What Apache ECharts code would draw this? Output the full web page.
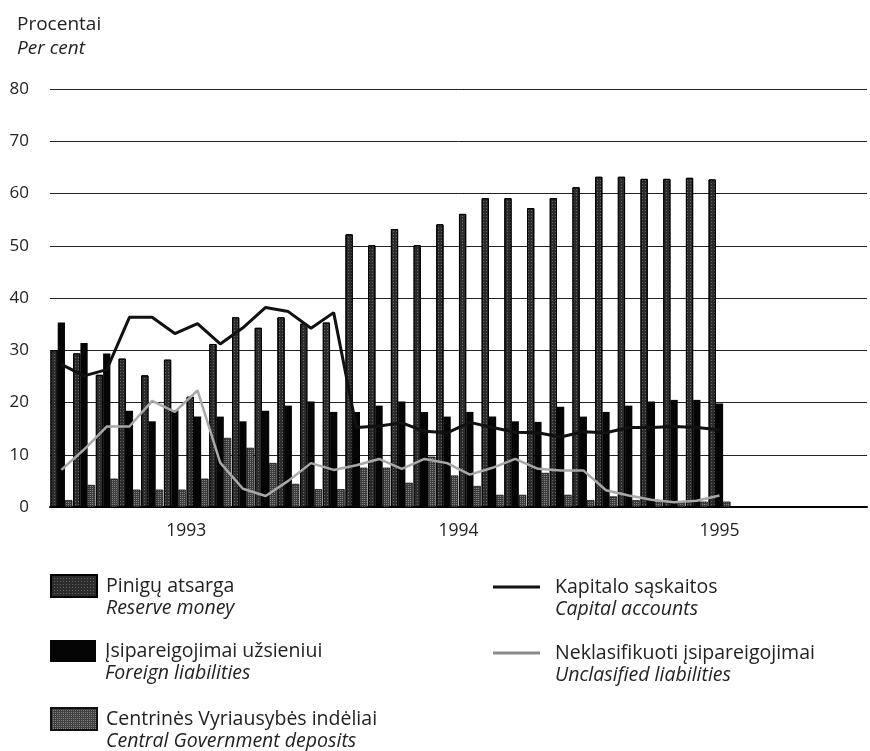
<!DOCTYPE html>
<html>
<head>
<meta charset="utf-8">
<script src="https://cdn.jsdelivr.net/npm/echarts@6/dist/echarts.min.js"></script>
<style>
html,body{margin:0;padding:0;background:#fff;}
#chart{width:870px;height:751px;}
</style>
</head>
<body>
<div id="chart"></div>
<script>
// Monthly categories, Jan 1993 - Dec 1995 (data through Jun 1995)
const months = [
  '1993-01','1993-02','1993-03','1993-04','1993-05','1993-06','1993-07','1993-08','1993-09','1993-10','1993-11','1993-12',
  '1994-01','1994-02','1994-03','1994-04','1994-05','1994-06','1994-07','1994-08','1994-09','1994-10','1994-11','1994-12',
  '1995-01','1995-02','1995-03','1995-04','1995-05','1995-06','1995-07','1995-08','1995-09','1995-10','1995-11','1995-12'
];
const yearLabels = ['1993', '1994', '1995'];
const yearTickPos = [6, 18, 29.5];

// Pinigų atsarga / Reserve money
const reserveMoney = [30, 29.4, 25.3, 28.4, 25.2, 28.2, 21.1, 31.2, 36.3, 34.3, 36.3, 35.1, 35.3,
  52.2, 50.1, 53.2, 50.1, 54.1, 56.1, 59.1, 59.1, 57.2, 59.1, 61.2, 63.2, 63.2, 62.8, 62.8, 63, 62.7];
// Įsipareigojimai užsieniui / Foreign liabilities
const foreignLiab = [35.3, 31.4, 29.4, 18.4, 16.4, 18.5, 17.3, 17.3, 16.4, 18.4, 19.4, 20.2, 18.2,
  18.2, 19.4, 20.2, 18.2, 17.3, 18.2, 17.3, 16.4, 16.3, 19.2, 17.3, 18.2, 19.4, 20.2, 20.5, 20.5, 19.8];
// Centrinės Vyriausybės indėliai / Central Government deposits
const govDeposits = [1.3, 4.2, 5.4, 3.3, 3.3, 3.3, 5.4, 13.2, 11.3, 8.4, 4.4, 3.4, 3.4,
  7.5, 7.5, 4.6, 9.6, 6, 4, 2.3, 2.3, 6.5, 2.3, 1.3, 2, 1.3, 1, 1, 1, 1];
// Kapitalo sąskaitos / Capital accounts
const capitalAcc = [27.3, 25.1, 26.3, 36.3, 36.3, 33.2, 35.1, 31.2, 34.3, 38.2, 37.4, 34.2, 37.2,
  15.2, 15.5, 16.1, 14.5, 14.2, 16.2, 15.2, 14.3, 14.2, 13.4, 14.4, 14.2, 15.2, 15.2, 15.4, 15.2, 14.8];
// Neklasifikuoti įsipareigojimai / Unclasified liabilities
const unclassLiab = [7.1, 11, 15.4, 15.4, 20.3, 18.2, 22.3, 8.5, 3.5, 2.1, 5, 8.4, 7.1,
  8, 9.2, 7.3, 9.2, 8.4, 6.2, 7.5, 9.2, 7.3, 7, 7, 3.2, 2.2, 1.4, 0.9, 1.2, 2.2];

const FONT = 'Open Sans';
const TXT = '#222';

const names = {
  rm: ['Pinigų atsarga', 'Reserve money'],
  fl: ['Įsipareigojimai užsieniui', 'Foreign liabilities'],
  gd: ['Centrinės Vyriausybės indėliai', 'Central Government deposits'],
  ca: ['Kapitalo sąskaitos', 'Capital accounts'],
  ul: ['Neklasifikuoti įsipareigojimai', 'Unclasified liabilities']
};
const allNames = {};
Object.values(names).forEach(p => { allNames[p[0]] = p[1]; });

function legendFor(name, left, top, isLine) {
  return {
    data: [name],
    left: left,
    top: top,
    padding: 0,
    selectedMode: false,
    itemWidth: isLine ? 47 : 46,
    itemHeight: isLine ? 3 : 22,
    icon: 'rect',
    formatter: n => '{a|' + n + '}\n{b|' + allNames[n] + '}',
    textStyle: {
      padding: [22, 0, 0, isLine ? 10 : 4],
      rich: {
        a: { fontFamily: FONT, fontSize: 19.5, color: TXT, lineHeight: 22 },
        b: { fontFamily: FONT, fontSize: 19.5, color: TXT, lineHeight: 22, fontStyle: 'italic' }
      }
    }
  };
}

const chart = echarts.init(document.getElementById('chart'), null, { renderer: 'canvas' });
const option = {
  backgroundColor: '#fff',
  animation: false,
  title: {
    text: 'Procentai',
    subtext: 'Per cent',
    left: 12,
    top: 10,
    itemGap: 5,
    textStyle: { fontFamily: FONT, fontSize: 19, fontWeight: 'normal', color: TXT },
    subtextStyle: { fontFamily: FONT, fontSize: 19, fontStyle: 'italic', color: TXT }
  },
  legend: [
    legendFor(names.rm[0], 50, 574, false),
    legendFor(names.fl[0], 50, 640, false),
    legendFor(names.gd[0], 50, 707, false),
    legendFor(names.ca[0], 493, 577, true),
    legendFor(names.ul[0], 493, 643, true)
  ],
  grid: { left: 50, top: 89, width: 828, height: 418, containLabel: false },
  xAxis: [
    {
      type: 'category',
      data: months,
      boundaryGap: true,
      axisLine: { show: true, lineStyle: { color: '#000', width: 2 } },
      axisTick: { show: false },
      axisLabel: { show: false },
      splitLine: { show: false }
    },
    {
      type: 'value',
      min: 0,
      max: 36,
      interval: 0.5,
      position: 'bottom',
      axisLine: { show: false },
      axisTick: { show: false },
      splitLine: { show: false },
      axisLabel: {
        margin: 15,
        fontFamily: FONT,
        fontSize: 17.5,
        color: TXT,
        formatter: v => {
          const i = yearTickPos.indexOf(v);
          return i >= 0 ? yearLabels[i] : '';
        }
      }
    }
  ],
  yAxis: {
    type: 'value',
    min: 0,
    max: 80,
    interval: 10,
    axisLine: { show: false },
    axisTick: { show: false },
    axisLabel: { margin: 21, fontFamily: FONT, fontSize: 17, color: TXT },
    splitLine: { lineStyle: { color: '#222', width: 1 } }
  },
  series: [
    {
      name: names.rm[0], type: 'bar', data: reserveMoney,
      barGap: '0%', barCategoryGap: '4%',
      itemStyle: {
        color: '#2c2c2c', borderColor: '#000', borderWidth: 1,
        decal: { symbol: 'rect', symbolSize: 1, color: 'rgba(160,160,160,0.5)', dashArrayX: [[1, 2]], dashArrayY: [1, 2], rotation: 0 }
      }
    },
    {
      name: names.fl[0], type: 'bar', data: foreignLiab,
      barGap: '0%', barCategoryGap: '4%',
      itemStyle: { color: '#050505' }
    },
    {
      name: names.gd[0], type: 'bar', data: govDeposits,
      barGap: '0%', barCategoryGap: '4%',
      itemStyle: {
        color: '#3e3e3e', borderColor: '#111', borderWidth: 0.5,
        decal: { symbol: 'rect', symbolSize: 1, color: 'rgba(190,190,190,0.55)', dashArrayX: [[1, 1]], dashArrayY: [1, 1], rotation: 0 }
      }
    },
    {
      name: names.ca[0], type: 'line', data: capitalAcc, xAxisIndex: 0,
      symbol: 'none', z: 5,
      lineStyle: { color: '#111', width: 3 },
      itemStyle: { color: '#111' }
    },
    {
      name: names.ul[0], type: 'line', data: unclassLiab, xAxisIndex: 0,
      symbol: 'none', z: 6,
      lineStyle: { color: '#a8a8a8', width: 2.5 },
      itemStyle: { color: '#8a8a8a' }
    }
  ]
};
chart.setOption(option);
</script>
</body>
</html>
